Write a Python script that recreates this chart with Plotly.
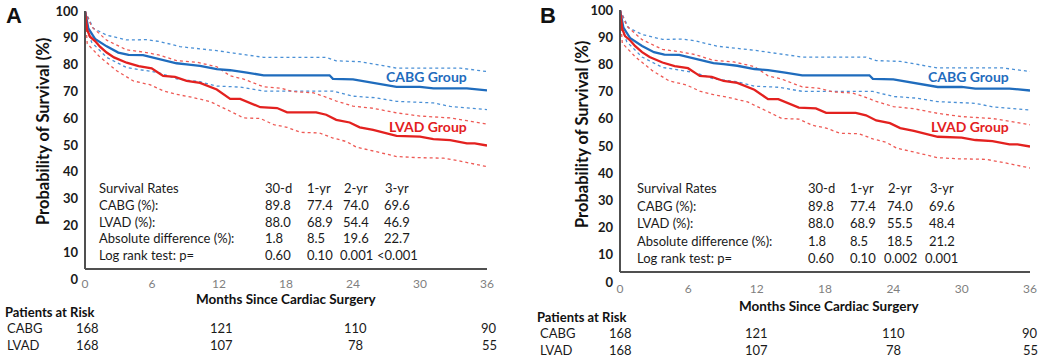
import plotly.graph_objects as go

# ---------------- data ----------------
cabg_t = [0, 0.3, 0.9, 1.94, 2.98, 3.9, 5.2, 6.1, 7.0, 8.2, 9.1, 10.3, 11.8, 13.0, 14.5, 16.0, 21.9, 22.2, 24.0, 25.8, 27.9, 30.0, 31.2, 34.2, 36]
cabg_s = [100, 93.5, 89.6, 86.8, 84.5, 83.6, 83.5, 82.6, 81.6, 80.5, 80.1, 79.5, 78.3, 77.9, 77.0, 76.0, 76.0, 74.7, 74.5, 73.2, 71.7, 71.7, 71.1, 71.1, 70.4]

cabg_up_t = [0, 0.75, 1.94, 3.73, 5.5, 6.7, 8.5, 10.1, 11.8, 13.3, 16.0, 21.6, 22.5, 24.6, 26.7, 27.9, 33.6, 36]
cabg_up_s = [100, 93.5, 91.0, 89.2, 89.3, 88.6, 86.7, 86.0, 85.2, 84.3, 82.7, 82.7, 81.4, 81.1, 79.5, 78.7, 78.7, 77.4]

cabg_lo_t = [0, 0.3, 0.6, 1.94, 3.73, 5.2, 6.6, 8.2, 10.3, 11.8, 13.9, 16.0, 22.2, 24.0, 26.1, 27.9, 31.2, 32.7, 36]
cabg_lo_s = [100, 91.5, 88.3, 82.7, 78.9, 77.9, 77.0, 74.7, 73.6, 72.0, 71.6, 70.1, 70.1, 68.2, 67.6, 66.3, 65.7, 64.4, 63.2]

lvad_t = [0, 0.2, 0.45, 0.9, 1.34, 1.94, 2.6, 3.73, 4.8, 5.97, 6.7, 7.0, 8.06, 9.1, 10.3, 11.8, 13.0, 13.9, 15.7, 17.2, 18.1, 20.7, 21.6, 22.5, 23.7, 24.6, 25.8, 26.7, 27.9, 30.0, 31.2, 32.7, 34.2, 34.9, 36]
lvad_s = [100, 92.9, 90.4, 88.8, 86.7, 84.5, 82.7, 80.7, 79.4, 78.6, 76.6, 75.8, 75.4, 73.9, 73.2, 70.7, 67.2, 67.2, 64.1, 63.8, 62.2, 62.2, 61.3, 59.4, 58.4, 56.6, 55.6, 54.7, 53.4, 53.1, 52.2, 51.8, 50.6, 50.6, 49.8]

lvad_up_t = [0, 0.6, 1.94, 3.73, 5.2, 6.6, 8.2, 10.0, 11.8, 13.0, 14.2, 16.0, 17.5, 18.7, 20.4, 21.3, 22.5, 24.0, 25.8, 27.9, 30.0, 32.7, 34.2, 36]
lvad_up_s = [100, 94.1, 89.1, 85.5, 84.7, 83.6, 81.5, 80.9, 79.2, 75.8, 74.6, 71.7, 71.2, 69.9, 69.5, 68.3, 66.4, 64.5, 63.7, 62.0, 60.8, 60.1, 59.1, 57.8]

lvad_lo_t = [0, 0.2, 1.34, 2.84, 4.33, 5.8, 7.0, 8.2, 9.7, 11.2, 13.0, 14.2, 15.7, 16.9, 18.1, 19.3, 21.0, 22.2, 23.4, 24.3, 26.1, 27.9, 29.7, 32.1, 33.6, 36]
lvad_lo_s = [100, 87.8, 82.8, 77.7, 73.9, 72.5, 70.2, 68.9, 67.7, 66.2, 62.6, 60.1, 59.9, 57.6, 56.6, 54.7, 54.5, 52.6, 51.3, 49.2, 47.5, 45.7, 45.3, 45.1, 44.0, 41.9]

x_ticks = [0, 6, 12, 18, 24, 30, 36]
y_ticks = [0, 10, 20, 30, 40, 50, 60, 70, 80, 90, 100]

table_rows = ["Survival Rates", "CABG (%):", "LVAD (%):", "Absolute difference (%):", "Log rank test: p="]
table_a_col1 = ["30-d", "89.8", "88.0", "1.8", "0.60"]
table_a_col2 = ["1-yr", "77.4", "68.9", "8.5", "0.10"]
table_a_col3 = ["2-yr", "74.0", "54.4", "19.6", "0.001"]
table_a_col4 = ["3-yr", "69.6", "46.9", "22.7", "<0.001"]
table_b_col1 = ["30-d", "89.8", "88.0", "1.8", "0.60"]
table_b_col2 = ["1-yr", "77.4", "68.9", "8.5", "0.10"]
table_b_col3 = ["2-yr", "74.0", "55.5", "18.5", "0.002"]
table_b_col4 = ["3-yr", "69.6", "48.4", "21.2", "0.001"]

risk_months = [0, 12, 24, 36]
risk_cabg = [168, 121, 110, 90]
risk_lvad = [168, 107, 78, 55]

# ---------------- styling ----------------
W, H = 1040, 358
FONT = "Lato"
BLUE = "#1f6cbd"
RED = "#e3211f"
LBLUE = "#4a90d6"
LRED = "#ee5a55"
AXC = "#505050"

# panel geometry in pixels
panels = {
    "A": dict(x0=85, x1=487, y0=279, y100=11, line=269, xa="x", ya="y", title_y=299, tstand=-4),
    "B": dict(x0=620, x1=1030, y0=282, y100=10, line=272, xa="x2", ya="y2", title_y=306, tstand=-2),
}

fig = go.Figure()

curves = [
    (cabg_up_t, cabg_up_s, LBLUE, "dot", 1.3),
    (cabg_lo_t, cabg_lo_s, LBLUE, "dot", 1.3),
    (lvad_up_t, lvad_up_s, LRED, "dot", 1.3),
    (lvad_lo_t, lvad_lo_s, LRED, "dot", 1.3),
    (cabg_t, cabg_s, BLUE, "solid", 2.3),
    (lvad_t, lvad_s, RED, "solid", 2.3),
]

for key, p in panels.items():
    for t, s, c, d, w in curves:
        fig.add_trace(go.Scatter(x=t, y=s, mode="lines", xaxis=p["xa"], yaxis=p["ya"],
                                 line=dict(color=c, dash=d, width=w), showlegend=False,
                                 hoverinfo="skip"))

def px_x(v):
    return v / W

def px_y(v):
    return 1 - v / H

layout = dict(width=W, height=H, margin=dict(l=0, r=0, t=0, b=0, pad=0, autoexpand=False),
              paper_bgcolor="white", plot_bgcolor="white", showlegend=False,
              template="none",
              font=dict(family=FONT, color="#222222"))

annotations = []
shapes = []

def ann(**kw):
    kw.setdefault("showarrow", False)
    kw.setdefault("xanchor", "center")
    kw.setdefault("yanchor", "middle")
    annotations.append(kw)

for key, p in panels.items():
    xname = "xaxis" if p["xa"] == "x" else "xaxis2"
    yname = "yaxis" if p["ya"] == "y" else "yaxis2"
    layout[xname] = dict(domain=[px_x(p["x0"]), px_x(p["x1"])], range=[0, 36],
                         tickvals=x_ticks, showgrid=False, zeroline=False, showline=False,
                         ticks="", tickfont=dict(family=FONT, size=12, color="#7f7f7f"),
                         ticklabelstandoff=p["tstand"],
                         anchor=p["ya"], fixedrange=True, automargin=False)
    layout[yname] = dict(domain=[px_y(p["y0"]), px_y(p["y100"])], range=[0, 100],
                         tickvals=y_ticks, ticktext=[f"<b>{v}</b>" for v in y_ticks],
                         showgrid=False, zeroline=False, showline=False, ticks="",
                         tickfont=dict(family=FONT, size=13, color="#1a1a1a"),
                         ticklabelstandoff=6, anchor=p["xa"], fixedrange=True, automargin=False)
    # axis lines
    shapes.append(dict(type="line", xref="paper", yref="paper",
                       x0=px_x(p["x0"]), x1=px_x(p["x0"]), y0=px_y(p["line"]), y1=px_y(p["y100"]),
                       line=dict(color=AXC, width=2)))
    shapes.append(dict(type="line", xref="paper", yref="paper",
                       x0=px_x(p["x0"]), x1=px_x(p["x1"]), y0=px_y(p["line"]), y1=px_y(p["line"]),
                       line=dict(color=AXC, width=2)))
    # x-axis title
    ann(x=0.5, y=px_y(p["title_y"]), xref=p["xa"] + " domain", yref="paper",
        text="<b>Months Since Cardiac Surgery</b>",
        xshift=4 if key == "B" else 0,
        font=dict(family=FONT, size=13.5, color="#111111"))

# y-axis titles and panel letters
ann(x=px_x(43), y=px_y(132), xref="paper", yref="paper", textangle=-90,
    text="<b>Probability of Survival (%)</b>",
    font=dict(family=FONT, size=16.5, color="#111111"))
ann(x=px_x(582), y=px_y(135), xref="paper", yref="paper", textangle=-90,
    text="<b>Probability of Survival (%)</b>",
    font=dict(family=FONT, size=16.5, color="#111111"))
ann(x=px_x(14), y=px_y(15), xref="paper", yref="paper", text="<b>A</b>",
    font=dict(family="Liberation Sans", size=22, color="#111111"))
ann(x=px_x(548), y=px_y(15), xref="paper", yref="paper", text="<b>B</b>",
    font=dict(family="Liberation Sans", size=22, color="#111111"))

# group labels
for key, p in panels.items():
    ann(x=30.6, y=75.7, xref=p["xa"], yref=p["ya"], text="<b>CABG Group</b>",
        font=dict(family=FONT, size=14, color=BLUE))
    ann(x=30.7, y=57.0, xref=p["xa"], yref=p["ya"], text="<b>LVAD Group</b>",
        font=dict(family=FONT, size=14, color=RED))

# survival tables
tables = {
    "A": dict(cols=[table_a_col1, table_a_col2, table_a_col3, table_a_col4],
              lab_x=1.07, col_x=[15.94, 19.70, 24.27, 27.94],
              row_y=[33.96, 27.61, 21.27, 15.30, 8.96]),
    "B": dict(cols=[table_b_col1, table_b_col2, table_b_col3, table_b_col4],
              lab_x=1.32, col_x=[16.33, 20.02, 24.59, 28.27],
              row_y=[34.56, 27.94, 21.69, 15.07, 8.82]),
}
col_anchor = ["left", "left", "center", "center"]
tf = dict(family=FONT, size=13, color="#1a1a1a")
for key, tb in tables.items():
    p = panels[key]
    for i, lab in enumerate(table_rows):
        ann(x=tb["lab_x"], y=tb["row_y"][i], xref=p["xa"], yref=p["ya"],
            text=lab, xanchor="left", font=tf)
        for j, col in enumerate(tb["cols"]):
            ann(x=tb["col_x"][j], y=tb["row_y"][i], xref=p["xa"], yref=p["ya"],
                text=col[i], xanchor=col_anchor[j], font=tf)

# patients at risk
risk_pos = {"A": dict(lx=3, tx=5, ys=[312, 328, 345], shift=2),
            "B": dict(lx=535, tx=538, ys=[317, 333, 350], shift=0)}
for key, rp in risk_pos.items():
    p = panels[key]
    ann(x=px_x(rp["lx"]), y=px_y(rp["ys"][0]), xref="paper", yref="paper",
        xanchor="left", text="<b>Patients at Risk</b>",
        font=dict(family=FONT, size=13, color="#111111"))
    for name, vals, yy in (("CABG", risk_cabg, rp["ys"][1]), ("LVAD", risk_lvad, rp["ys"][2])):
        ann(x=px_x(rp["tx"]), y=px_y(yy), xref="paper", yref="paper",
            xanchor="left", text=name, font=tf)
        for m, v in zip(risk_months, vals):
            ann(x=m, y=px_y(yy), xref=p["xa"], yref="paper", xshift=rp["shift"],
                text=str(v), font=tf)

layout["annotations"] = annotations
layout["shapes"] = shapes
fig.update_layout(**layout)
fig.write_html("out.html", config={"displayModeBar": False, "staticPlot": True},
               post_script="document.body.style.margin='0';document.body.style.overflow='hidden';")
